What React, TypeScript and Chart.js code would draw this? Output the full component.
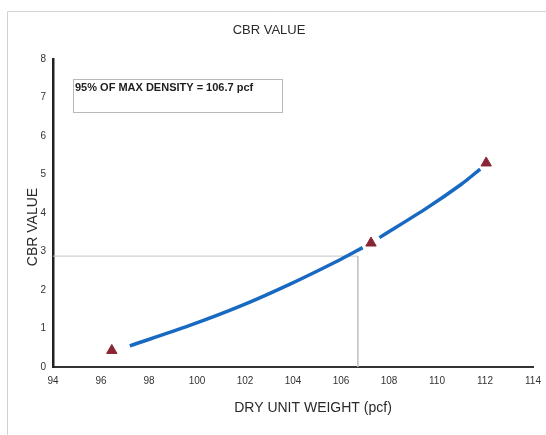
import React, { useEffect, useRef } from "react";
import { Chart, registerables } from "chart.js";

Chart.register(...registerables);

// Measured CBR test points (dry unit weight, CBR)
const testWeights = [96.45, 107.25, 112.05];
const testCbr = [0.43, 3.22, 5.3];

// Fitted CBR curve (gap left open near the middle test point)
const curveWeights = [97.2, 99.7, 101.8, 103.9, 106.0, 106.9, null, 107.6, 109.6, 111.0, 111.8];
const curveCbr = [0.55, 1.08, 1.58, 2.16, 2.8, 3.1, null, 3.36, 4.14, 4.74, 5.14];

// 95% of max density reference
const refDensity = 106.7;
const refCbr = 2.88;

const xTicks = { min: 94, max: 114, step: 2 };
const yTicks = { min: 0, max: 8, step: 1 };

const chartTitle = "CBR VALUE";
const xTitle = "DRY UNIT WEIGHT (pcf)";
const yTitle = "CBR VALUE";
const noteText = `95% OF MAX DENSITY = ${refDensity} pcf`;

const FONT = "'Liberation Sans', Arial, sans-serif";

const decorations = {
  id: "decorations",
  beforeDraw(chart: any) {
    const ctx = chart.ctx;
    ctx.save();
    // light outer frame
    ctx.strokeStyle = "#d2d2d2";
    ctx.lineWidth = 1;
    ctx.beginPath();
    ctx.moveTo(7.5, 435);
    ctx.lineTo(7.5, 11.5);
    ctx.lineTo(546, 11.5);
    ctx.stroke();
    ctx.restore();
  },
  afterDraw(chart: any) {
    const ctx = chart.ctx;
    ctx.save();
    ctx.fillStyle = "#2a2a2a";
    ctx.textAlign = "center";
    ctx.textBaseline = "middle";
    ctx.font = `13px ${FONT}`;
    ctx.fillText(chartTitle, 269, 30);

    ctx.font = `14px ${FONT}`;
    ctx.fillText(xTitle, 313, 408);

    ctx.translate(33, 227);
    ctx.rotate(-Math.PI / 2);
    ctx.fillText(yTitle, 0, 0);
    ctx.restore();

    // annotation box
    ctx.save();
    ctx.strokeStyle = "#b8b8b8";
    ctx.lineWidth = 1;
    ctx.strokeRect(73.5, 79.5, 209, 33);
    ctx.fillStyle = "#1e1e1e";
    ctx.font = `bold 11px ${FONT}`;
    ctx.textAlign = "left";
    ctx.textBaseline = "middle";
    ctx.fillText(noteText, 75, 88);
    ctx.restore();
  },
};

export default function App() {
  const canvasRef = useRef<HTMLCanvasElement | null>(null);

  useEffect(() => {
    if (!canvasRef.current) return;
    const curve = curveWeights.map((x, i) =>
      x === null ? { x: NaN, y: null } : { x, y: curveCbr[i] }
    );
    const chart = new Chart(canvasRef.current, {
      type: "scatter",
      data: {
        datasets: [
          {
            label: "reference",
            data: [
              { x: xTicks.min, y: refCbr },
              { x: refDensity, y: refCbr },
              { x: refDensity, y: 0 },
            ],
            showLine: true,
            borderColor: "#c4c4c4",
            borderWidth: 1,
            pointRadius: 0,
            order: 3,
          },
          {
            label: "curve",
            data: curve as any,
            showLine: true,
            spanGaps: false,
            borderColor: "#1769c2",
            borderWidth: 3.5,
            tension: 0.3,
            pointRadius: 0,
            order: 2,
          },
          {
            label: "tests",
            data: testWeights.map((x, i) => ({ x, y: testCbr[i] })),
            showLine: false,
            pointStyle: "triangle",
            pointRadius: 6,
            pointBackgroundColor: "#8a2535",
            pointBorderColor: "#8a2535",
            order: 1,
          },
        ],
      },
      options: {
        animation: false,
        responsive: true,
        maintainAspectRatio: false,
        layout: { padding: { left: 0, right: 13, top: 59, bottom: 38 } },
        plugins: {
          legend: { display: false },
          title: { display: false },
          tooltip: { enabled: false },
        },
        scales: {
          x: {
            type: "linear",
            min: xTicks.min,
            max: xTicks.max,
            ticks: {
              stepSize: xTicks.step,
              padding: 8,
              color: "#333",
              font: { family: FONT, size: 10 },
            },
            grid: { display: false, drawTicks: false },
            border: { display: true, color: "#333", width: 2 },
            afterFit(scale: any) {
              scale.height = 30;
              scale.paddingLeft = 0;
              scale.paddingRight = 0;
            },
          },
          y: {
            type: "linear",
            min: yTicks.min,
            max: yTicks.max,
            ticks: {
              stepSize: yTicks.step,
              padding: 7,
              color: "#333",
              font: { family: FONT, size: 10 },
            },
            grid: { display: false, drawTicks: false },
            border: { display: true, color: "#222", width: 2.5 },
            afterFit(scale: any) {
              scale.width = 53;
              scale.paddingTop = 0;
              scale.paddingBottom = 0;
            },
          },
        },
      },
      plugins: [decorations],
    });
    return () => chart.destroy();
  }, []);

  return (
    <div style={{ position: "absolute", left: 0, top: 0, width: 546, height: 435, background: "#fff" }}>
      <canvas ref={canvasRef} />
    </div>
  );
}
